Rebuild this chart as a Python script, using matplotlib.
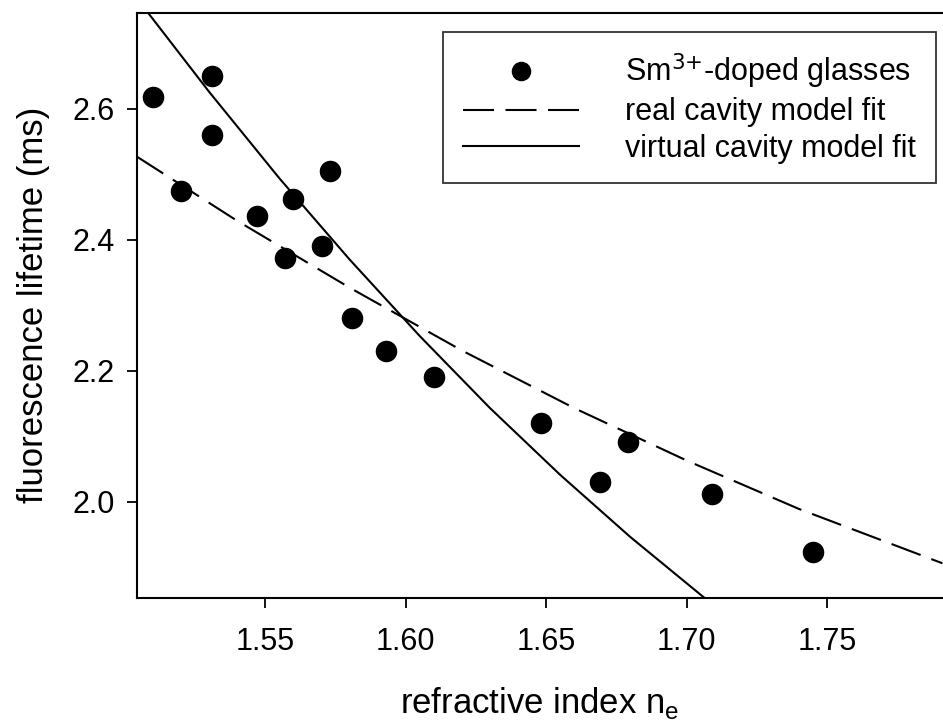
import matplotlib
matplotlib.use("Agg")
import matplotlib.pyplot as plt

plt.rcParams['font.family'] = ['Liberation Sans', 'DejaVu Sans']

# measured lifetimes of the glasses
n_e = [1.510, 1.520, 1.531, 1.531, 1.547, 1.557, 1.560, 1.570, 1.573,
       1.581, 1.593, 1.610, 1.648, 1.669, 1.679, 1.709, 1.745]
tau = [2.618, 2.475, 2.650, 2.560, 2.436, 2.372, 2.462, 2.391, 2.505,
       2.280, 2.230, 2.191, 2.120, 2.030, 2.092, 2.012, 1.923]

# model fit curves
real_n = [1.5043, 1.54, 1.58, 1.62, 1.66, 1.70, 1.74, 1.7911]
real_tau = [2.527, 2.429, 2.327, 2.231, 2.143, 2.063, 1.989, 1.906]
virt_n = [1.5082, 1.530, 1.555, 1.580, 1.605, 1.630, 1.655, 1.680, 1.7064]
virt_tau = [2.747, 2.626, 2.494, 2.370, 2.253, 2.143, 2.041, 1.946, 1.853]

fig = plt.figure(figsize=(9.43, 7.25), dpi=100)
ax = fig.add_axes([0.1453, 0.1752, 0.8547, 0.8073])

lw = 1.5
ax.plot(n_e, tau, 'o', color='black', markersize=14.5, label='Sm$^{3{+}}$-doped glasses')
ax.plot(real_n, real_tau, color='black', lw=lw, linestyle=(0, (14.9, 5.5)),
        label='real cavity model fit')
ax.plot(virt_n, virt_tau, color='black', lw=lw, label='virtual cavity model fit')

ax.set_xlim(1.5043, 1.7913)
ax.set_ylim(1.853, 2.747)
ax.set_xticks([1.55, 1.60, 1.65, 1.70, 1.75])
ax.set_xticklabels(['1.55', '1.60', '1.65', '1.70', '1.75'])
ax.set_yticks([2.0, 2.2, 2.4, 2.6])
ax.set_yticklabels(['2.0', '2.2', '2.4', '2.6'])
ax.tick_params(direction='out', length=7, width=1.3, labelsize=22)
ax.tick_params(axis='x', pad=14)
ax.tick_params(axis='y', pad=9)

ax.spines['right'].set_visible(False)
for s in ['left', 'bottom', 'top']:
    ax.spines[s].set_linewidth(1.5)

ax.set_xlabel('refractive index n$_\\mathregular{e}$', fontsize=25, labelpad=20)
ax.set_ylabel('fluorescence lifetime (ms)', fontsize=25, labelpad=16)

leg = ax.legend(loc='upper right', bbox_to_anchor=(0.991, 0.967), borderaxespad=0,
                fontsize=22, numpoints=1, handlelength=3.8, handletextpad=1.5,
                fancybox=False, framealpha=1, borderpad=0.65, labelspacing=0.2,
                markerscale=0.9)
leg.get_frame().set_edgecolor('#333333')
leg.get_frame().set_linewidth(1.3)

fig.savefig('out.png', dpi=100)
